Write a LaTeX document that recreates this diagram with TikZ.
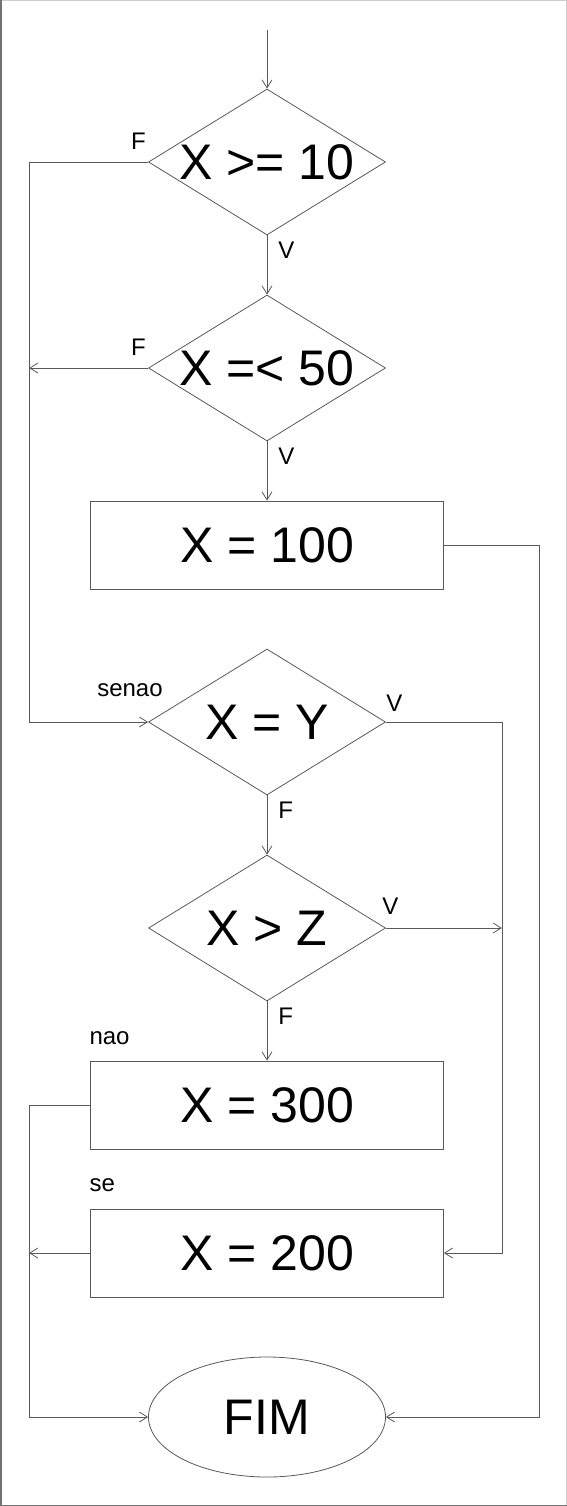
\documentclass[tikz,border=0pt]{standalone}
\usepackage{fontspec}
\setmainfont{Liberation Sans}
\usetikzlibrary{arrows.meta,positioning,shapes.geometric}

\begin{document}
\begin{tikzpicture}[->,>={Straight Barb[length=8pt,width=10pt]},auto,node distance=59.2pt,
                    line width=0.8pt,color=black!65]
	\tikzstyle{every node}=[text=black]
	\tikzstyle{decision}=[diamond,draw,aspect=1.62,inner sep=0pt,minimum width=237pt,
	                      minimum height=146pt,font=\fontsize{50}{60}\selectfont]
	\tikzstyle{process}=[rectangle,draw,minimum width=353pt,minimum height=88pt,
	                     font=\fontsize{50}{60}\selectfont]
	\tikzstyle{terminal}=[ellipse,draw,minimum width=237pt,minimum height=120pt,
	                      font=\fontsize{50}{60}\selectfont]
	\tikzstyle{lbl}=[inner sep=0pt,font=\fontsize{24}{28}\selectfont]
	\tikzstyle{side}=[lbl,inner sep=11pt]

	\useasboundingbox (0,0) rectangle (567pt,-1506pt);
	% page frame
	\draw[-,black!20,line width=1pt] (0,-0.5pt) -- (566.5pt,-0.5pt) -- (566.5pt,-1506pt);
	\draw[-,black!55,line width=1.5pt] (0.75pt,0) -- (0.75pt,-1505.25pt) -- (567pt,-1505.25pt);

	\node[decision] (d1) at (267pt,-162pt) {X >= 10};
	\node[decision] (d2) [below=of d1]   {X =< 50};
	\node[process]  (b100) [below=of d2] {X = 100};
	\node[decision] (d3) [below=of b100] {X = Y};
	\node[decision] (d4) [below=of d3]   {X > Z};
	\node[process]  (b300) [below=of d4] {X = 300};
	\node[process]  (b200) [below=of b300] {X = 200};
	\node[terminal] (fim) [below=of b200] {FIM};

	\coordinate[above=59pt of d1.north] (start);
	\coordinate[left=119pt of d1.west] (lrail);
	\coordinate[right=116pt of d3.east] (mrail);
	\coordinate[right=95pt of b100.east] (rrail);

	% labels
	\node[lbl, above left=12pt and 2pt of d1.west] {F};
	\node[lbl, above left=12pt and 2pt of d2.west] {F};
	\node[lbl, above right=10pt and 0pt of d3.east] {V};
	\node[lbl, above right=13pt and -4pt of d4.east] {V};
	\node[lbl, above left=25pt and -15pt of d3.west] {senao};
	\node[lbl, above right=15pt and -1pt of b300.north west] {nao};
	\node[lbl, above right=16pt and -1pt of b200.north west] {se};

	\draw (start) -- (d1);
	\path (d1) edge node[side,near start] {V} (d2)
	      (d2) edge node[side,near start] {V} (b100)
	      (d3) edge node[side,near start] {F} (d4)
	      (d4) edge node[side,near start] {F} (b300);

	\draw (d1.west) -- (lrail) |- (d3.west);
	\draw (d2.west) -- (d2.west -| lrail);
	\draw (b100.east) -- (rrail) |- (fim.east);
	\draw (d3.east) -- (mrail) |- (b200.east);
	\draw (d4.east) -- (d4.east -| mrail);
	\draw (b300.west) -- (b300.west -| lrail) |- (fim.west);
	\draw (b200.west) -- (b200.west -| lrail);
\end{tikzpicture}
\end{document}
